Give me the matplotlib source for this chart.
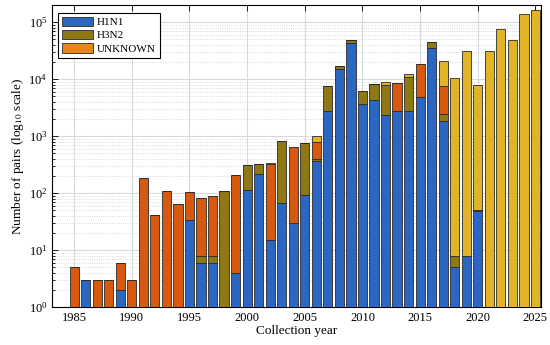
import numpy as np
import matplotlib.pyplot as plt
from matplotlib.patches import Patch

plt.rcParams['font.family'] = ['Liberation Serif', 'DejaVu Serif']
plt.rcParams['mathtext.fontset'] = 'stix'

# (counts per collection year)
years = np.arange(1985, 2026)

h1n1 = [0, 3, 0, 0, 2, 0, 0, 0, 0, 0,
        33, 6, 6, 0, 4, 112, 215, 15, 66, 30,
        93, 364, 2700, 15000, 42000, 3600, 4200, 2300, 2800, 2800,
        4800, 35000, 1800, 5, 8, 49, 0, 0, 0, 0, 0]
h3n2 = [0, 0, 0, 0, 0, 0, 0, 0, 0, 0,
        0, 2, 2, 110, 0, 198, 109, 0, 749, 0,
        667, 30, 4700, 1600, 5900, 2500, 4000, 5600, 0, 8200,
        0, 10000, 660, 3, 0, 2, 0, 0, 0, 0, 0]
unknown = [5, 0, 3, 3, 4, 3, 180, 42, 110, 65,
           72, 73, 81, 0, 204, 0, 0, 305, 0, 616,
           0, 396, 0, 0, 0, 0, 0, 0, 5700, 0,
           13800, 0, 4940, 0, 0, 0, 0, 0, 0, 0, 0]
recent = [0, 0, 0, 0, 0, 0, 0, 0, 0, 0,
          0, 0, 0, 0, 0, 0, 0, 10, 0, 0,
          0, 210, 0, 0, 0, 0, 0, 900, 0, 1300,
          0, 0, 12900, 10500, 30400, 7850, 30400, 74600, 47900, 139000, 163000]

labels = ['H1N1', 'H3N2', 'UNKNOWN']
colors = ['#2a66c2', '#8e7814', '#d7580f', '#e2b227']

fig = plt.figure(figsize=(5.5, 3.45), dpi=100)
ax = fig.add_axes([0.095, 0.11, 0.889, 0.876])

bottom = np.zeros(len(years))
for vals, c in zip([h1n1, h3n2, unknown, recent], colors):
    vals = np.array(vals, dtype=float)
    ax.bar(years, vals, 0.8, bottom=bottom, color=c, edgecolor='#2b2b2b',
           linewidth=0.6, zorder=3)
    bottom = bottom + vals

ax.set_yscale('log')
ax.set_ylim(1, 2e5)
ax.set_xlim(1983.1, 2025.5)
ax.set_xticks(np.arange(1985, 2026, 5))

ax.grid(True, which='major', color='#d9d9d9', linewidth=0.8, zorder=0)
ax.grid(True, which='minor', axis='y', color='#cfcfcf', linestyle=':',
        linewidth=0.6, zorder=0)
ax.set_axisbelow(True)

ax.tick_params(which='both', direction='in', top=True, right=True,
               labelsize=9, width=0.6)
ax.tick_params(which='major', length=4)
ax.tick_params(which='minor', length=2)
for s in ax.spines.values():
    s.set_linewidth(0.8)

ax.set_xlabel('Collection year', fontsize=9.5, labelpad=1)
ax.set_ylabel(r'Number of pairs (log$_{10}$ scale)', fontsize=9.5, labelpad=2)

handles = [Patch(facecolor=colors[0], edgecolor='#2b2b2b', linewidth=0.6),
           Patch(facecolor=colors[1], edgecolor='#2b2b2b', linewidth=0.6),
           Patch(facecolor='#e8861c', edgecolor='#2b2b2b', linewidth=0.6)]
leg = ax.legend(handles, labels, loc='upper left', fontsize=8,
                fancybox=False, edgecolor='black', framealpha=1,
                handlelength=2.8, handleheight=0.9, borderpad=0.35,
                labelspacing=0.27, handletextpad=0.35, borderaxespad=0,
                bbox_to_anchor=(0.012, 0.974))
leg.get_frame().set_linewidth(0.8)

fig.savefig('out.png', dpi=100)
